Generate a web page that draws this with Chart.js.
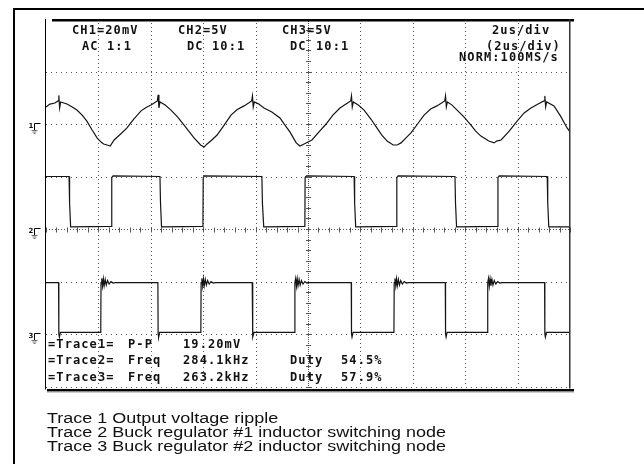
<!DOCTYPE html>
<html>
<head>
<meta charset="utf-8">
<script src="https://cdn.jsdelivr.net/npm/chart.js@4"></script>
<style>
  body { margin: 0; background: #fff; }
  #wrap { position: relative; width: 644px; height: 464px; overflow: hidden; }
  #c { position: absolute; left: 0; top: 0; }
  .frame { position: absolute; left: 13px; top: 8px; width: 700px; height: 500px;
           border-left: 2px solid #000; border-top: 2px solid #000; }
  .osd { position: absolute; font: bold 12px "DejaVu Sans Mono", monospace; line-height: 12px;
         letter-spacing: 1.1px; color: #111; white-space: pre; }
  .cap { position: absolute; left: 47px; top: 410.5px; font: 15.5px "Liberation Sans", Arial, sans-serif;
         line-height: 14px; color: #111; white-space: pre; transform: scaleX(1.16); transform-origin: 0 0; }
</style>
</head>
<body>
<div id="wrap">
  <div class="frame"></div>
  <canvas id="c" width="644" height="464"></canvas>

  <div class="osd" style="left:72px;top:23.5px">CH1=20mV</div>
  <div class="osd" style="left:82px;top:39.5px">AC</div>
  <div class="osd" style="left:107px;top:39.5px">1:1</div>
  <div class="osd" style="left:178px;top:23.5px">CH2=5V</div>
  <div class="osd" style="left:187px;top:39.5px">DC</div>
  <div class="osd" style="left:212px;top:39.5px">10:1</div>
  <div class="osd" style="left:282px;top:23.5px">CH3=5V</div>
  <div class="osd" style="left:290px;top:39.5px">DC</div>
  <div class="osd" style="left:316px;top:39.5px">10:1</div>
  <div class="osd" style="left:492px;top:23.5px">2us/div</div>
  <div class="osd" style="left:486px;top:39.5px">(2us/div)</div>
  <div class="osd" style="left:459px;top:50.5px">NORM:100MS/s</div>

  <div class="osd" style="left:48px;top:337.5px">=Trace1=</div>
  <div class="osd" style="left:128px;top:337.5px">P-P</div>
  <div class="osd" style="left:183px;top:337.5px">19.20mV</div>
  <div class="osd" style="left:48px;top:354px">=Trace2=</div>
  <div class="osd" style="left:128px;top:354px">Freq</div>
  <div class="osd" style="left:183px;top:354px">284.1kHz</div>
  <div class="osd" style="left:290px;top:354px">Duty</div>
  <div class="osd" style="left:341px;top:354px">54.5%</div>
  <div class="osd" style="left:48px;top:370.5px">=Trace3=</div>
  <div class="osd" style="left:128px;top:370.5px">Freq</div>
  <div class="osd" style="left:183px;top:370.5px">263.2kHz</div>
  <div class="osd" style="left:290px;top:370.5px">Duty</div>
  <div class="osd" style="left:341px;top:370.5px">57.9%</div>

  <div class="cap">Trace 1 Output voltage ripple
Trace 2 Buck regulator #1 inductor switching node
Trace 3 Buck regulator #2 inductor switching node</div>
</div>

<script>
// time in us, screen is 10 div x 2us
const timeMax = 20
const vDivs = 7

// channel ground positions (in divisions from bottom) and volts/div
const grounds = [5, 3, 1]
const ch1mVdiv = 20
const ch2Vdiv = 5
const ch3Vdiv = 5

// trace 1: output ripple [us, mV]
const trace1 = [
  [0.00, 6.5], [0.15, 7.6], [0.34, 8.0], [0.46, 8.8], [0.49, 10.9], [0.52, 6.1], [0.56, 8.4], [0.80, 7.6],
  [1.00, 6.5], [1.18, 5.3], [1.38, 3.4], [1.56, 1.1], [1.76, -2.3], [1.95, -5.3], [2.10, -6.9], [2.20, -7.6],
  [2.33, -8.0], [2.45, -8.4], [2.60, -6.1], [2.85, -3.8],
  [3.09, -1.5], [3.35, 1.9], [3.63, 5.0], [3.82, 6.3], [4.01, 7.2], [4.25, 8.8], [4.28, 11.1], [4.31, 6.1], [4.35, 8.4],
  [4.55, 7.2], [4.77, 5.3], [5.02, 2.7], [5.27, -0.4], [5.47, -3.0], [5.65, -5.3], [5.90, -8.0], [6.03, -8.8],
  [6.15, -7.6], [6.33, -6.1], [6.53, -4.2], [6.80, -0.4],
  [7.06, 3.4], [7.30, 5.5], [7.56, 6.9], [7.85, 8.8], [7.88, 10.7], [7.91, 6.5], [7.95, 8.4], [8.12, 7.6], [8.32, 6.1],
  [8.62, 4.6], [8.93, 2.3], [9.12, -0.4], [9.31, -3.0], [9.55, -7.2], [9.69, -8.4], [9.85, -7.6], [10.15, -6.1],
  [10.42, -3.0], [10.69, 0.0], [10.95, 3.4],
  [11.22, 6.1], [11.45, 7.6], [11.63, 8.8], [11.66, 10.7], [11.69, 6.5], [11.73, 8.4], [11.92, 7.2], [12.14, 5.3],
  [12.40, 1.9], [12.63, -1.5], [12.82, -4.2],
  [13.02, -6.5], [13.25, -8.0], [13.40, -8.0], [13.55, -7.2], [13.74, -5.3], [13.93, -3.4], [14.18, 0.0],
  [14.43, 3.4], [14.68, 5.7], [14.92, 6.9],
  [15.22, 8.8], [15.25, 10.7], [15.28, 6.5], [15.32, 8.4], [15.50, 7.2], [15.69, 5.3], [15.95, 2.7], [16.22, -0.4],
  [16.40, -2.7], [16.60, -4.6], [16.90, -6.5], [17.10, -7.2], [17.20, -6.5], [17.37, -6.1], [17.68, -2.7],
  [17.98, 1.1], [18.25, 4.2], [18.51, 6.1], [18.78, 7.6],
  [19.01, 8.8], [19.04, 10.7], [19.07, 6.5], [19.11, 8.4], [19.39, 6.9], [19.64, 3.0], [19.89, -1.5], [20.00, -3.0]
]

// trace 2: buck #1 switch node [us, V]
const trace2 = [
  [0, 5.0], [0.88, 5.0], [0.90, 2.5], [0.94, 0.2], [2.50, 0.25], [2.51, 4.9], [2.56, 5.05],
  [4.35, 5.0], [4.37, 2.5], [4.41, 0.2], [5.99, 0.25], [6.00, 4.9], [6.05, 5.05],
  [8.24, 5.0], [8.26, 2.5], [8.31, 0.2], [9.88, 0.25], [9.89, 4.9], [9.94, 5.05],
  [11.76, 5.0], [11.78, 2.5], [11.82, 0.2], [13.38, 0.25], [13.39, 4.9], [13.44, 5.05],
  [15.61, 5.0], [15.63, 2.5], [15.67, 0.2], [17.24, 0.25], [17.25, 4.9], [17.30, 5.05],
  [19.13, 5.0], [19.15, 2.5], [19.19, 0.2], [20, 0.2]
]

// trace 3: buck #2 switch node [us, V]
const trace3 = [
  [0, 4.9], [0.48, 4.9], [0.49, 0.0], [0.51, -0.3], [0.55, 0.15],
  [2.09, 0.15], [2.10, 4.9], [2.13, 5.3], [2.16, 4.55], [2.19, 5.25], [2.22, 4.6], [2.26, 5.2], [2.30, 4.65],
  [2.35, 5.1], [2.41, 4.75], [2.48, 5.0], [2.56, 4.85], [2.65, 4.9],
  [4.27, 4.9], [4.28, 0.0], [4.30, -0.3], [4.34, 0.15],
  [5.91, 0.15], [5.92, 4.9], [5.95, 5.3], [5.98, 4.55], [6.01, 5.25], [6.04, 4.6], [6.08, 5.2], [6.12, 4.65],
  [6.17, 5.1], [6.23, 4.75], [6.30, 5.0], [6.38, 4.85], [6.47, 4.9],
  [7.87, 4.9], [7.88, 0.0], [7.90, -0.3], [7.94, 0.15],
  [9.49, 0.15], [9.50, 4.9], [9.53, 5.3], [9.56, 4.55], [9.59, 5.25], [9.62, 4.6], [9.66, 5.2], [9.70, 4.65],
  [9.75, 5.1], [9.81, 4.75], [9.88, 5.0], [9.96, 4.85], [10.05, 4.9],
  [11.65, 4.9], [11.66, 0.0], [11.68, -0.3], [11.72, 0.15],
  [13.28, 0.15], [13.29, 4.9], [13.32, 5.3], [13.35, 4.55], [13.38, 5.25], [13.41, 4.6], [13.45, 5.2], [13.49, 4.65],
  [13.54, 5.1], [13.60, 4.75], [13.67, 5.0], [13.75, 4.85], [13.84, 4.9],
  [15.24, 4.9], [15.25, 0.0], [15.27, -0.3], [15.31, 0.15],
  [16.85, 0.15], [16.86, 4.9], [16.89, 5.3], [16.92, 4.55], [16.95, 5.25], [16.98, 4.6], [17.02, 5.2], [17.06, 4.65],
  [17.11, 5.1], [17.17, 4.75], [17.24, 5.0], [17.32, 4.85], [17.41, 4.9],
  [19.03, 4.9], [19.04, 0.0], [19.06, -0.3], [19.10, 0.15], [20, 0.15]
]

function toDivs(points, gnd, perDiv) {
  return points.map(([t, v]) => ({ x: t, y: gnd + v / perDiv }))
}

function traceSet(points, gnd, perDiv) {
  return {
    data: toDivs(points, gnd, perDiv),
    borderColor: '#141414',
    borderWidth: 1.2,
    pointRadius: 0,
    tension: 0,
    fill: false
  }
}

// dotted graticule with the two marked centre lines
const graticule = {
  id: 'graticule',
  beforeDatasetsDraw(chart) {
    const { ctx, chartArea: a, scales: { x, y } } = chart
    ctx.save()
    ctx.strokeStyle = '#555'
    ctx.lineWidth = 1
    for (let t = 2; t < timeMax; t += 2) {
      const px = Math.round(x.getPixelForValue(t)) + 0.5
      ctx.setLineDash(t === 10 ? [1, 1] : [1, 3])
      ctx.beginPath(); ctx.moveTo(px, a.top); ctx.lineTo(px, a.bottom); ctx.stroke()
    }
    for (let d = 0; d < vDivs; d++) {
      const py = Math.round(y.getPixelForValue(d)) + 0.5
      ctx.setLineDash(d === 3 ? [1, 2] : [1, 4])
      ctx.beginPath(); ctx.moveTo(a.left, py); ctx.lineTo(a.right, py); ctx.stroke()
    }
    ctx.setLineDash([])
    const cx = Math.round(x.getPixelForValue(10)) + 0.5
    for (let k = 0; k <= vDivs * 5; k++) {
      const py = Math.round(y.getPixelForValue(k / 5)) + 0.5
      ctx.beginPath(); ctx.moveTo(cx - 2.5, py); ctx.lineTo(cx + 2.5, py); ctx.stroke()
    }
    const cy = Math.round(y.getPixelForValue(3)) + 0.5
    for (let k = 0; k <= 50; k++) {
      const px = Math.round(x.getPixelForValue(k * 0.4)) + 0.5
      ctx.beginPath(); ctx.moveTo(px, cy - 2); ctx.lineTo(px, cy + 3); ctx.stroke()
    }
    ctx.restore()
  },
  afterDatasetsDraw(chart) {
    const { ctx, chartArea: a, scales: { y } } = chart
    ctx.save()
    ctx.fillStyle = '#000'
    // screen frame
    ctx.fillRect(a.left - 1, a.top, 1, a.bottom - a.top + 3)
    ctx.fillRect(a.left + 6, a.top, a.right - a.left - 2, 2.5)
    ctx.fillStyle = '#333'
    ctx.fillRect(a.right - 1, a.top, 1.5, a.bottom - a.top + 2)
    ctx.fillStyle = '#000'
    ctx.fillRect(a.left + 1, a.bottom + 2.5, a.right - a.left + 3, 2.5)
    ctx.fillStyle = '#999'
    ctx.fillRect(a.left + 1, a.bottom + 5, a.right - a.left + 3, 1)

    // ground markers
    grounds.forEach((g, i) => {
      const py = Math.round(y.getPixelForValue(g)) + 0.5
      const x0 = a.left - 11.5
      ctx.strokeStyle = '#000'
      ctx.lineWidth = 1
      ctx.beginPath()
      ctx.moveTo(x0 + 6, py - 1); ctx.lineTo(x0, py - 1); ctx.lineTo(x0, py + 6)
      ctx.stroke()
      ctx.strokeStyle = '#777'
      ctx.beginPath()
      ctx.moveTo(x0 - 3, py + 6); ctx.lineTo(x0 + 3, py + 6)
      ctx.moveTo(x0 - 2, py + 7.5); ctx.lineTo(x0 + 2, py + 7.5)
      ctx.moveTo(x0 - 1, py + 9); ctx.lineTo(x0 + 1, py + 9)
      ctx.stroke()
      ctx.fillStyle = '#111'
      ctx.font = 'bold 7px "DejaVu Sans"'
      ctx.textBaseline = 'alphabetic'
      ctx.fillText(String(i + 1), x0 - 6, py + 3)
    })
    ctx.restore()
  }
}

new Chart(document.getElementById('c'), {
  type: 'line',
  data: {
    datasets: [
      traceSet(trace1, grounds[0], ch1mVdiv),
      traceSet(trace2, grounds[1], ch2Vdiv),
      traceSet(trace3, grounds[2], ch3Vdiv)
    ]
  },
  options: {
    responsive: false,
    animation: false,
    events: [],
    layout: { padding: { left: 46, right: 74, top: 19, bottom: 77.5 } },
    plugins: { legend: { display: false }, tooltip: { enabled: false } },
    scales: {
      x: { type: 'linear', min: 0, max: timeMax, display: false },
      y: { min: 0, max: vDivs, display: false }
    }
  },
  plugins: [graticule]
})
</script>
</body>
</html>
